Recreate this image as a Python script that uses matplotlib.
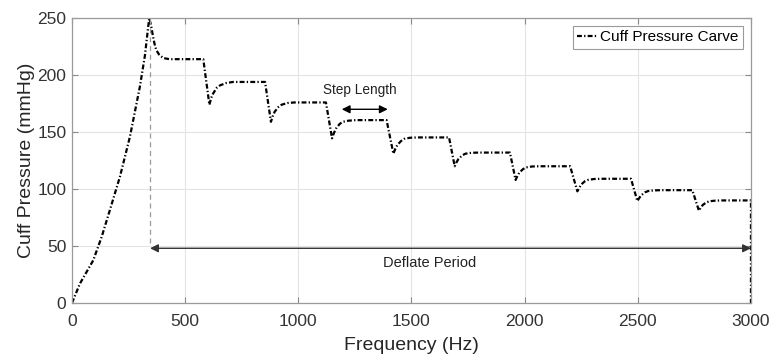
import matplotlib.pyplot as plt

plt.rcParams['font.family'] = ['Liberation Sans', 'DejaVu Sans']

# cuff pressure curve (Hz, mmHg)
ramp_f = [0, 35, 94, 131, 168, 212, 256, 300, 322, 341]
ramp_p = [0, 17, 37.5, 58, 82, 111, 146, 190, 217, 250]

peak_f = [349, 356, 364, 372, 385, 403, 430, 580]
peak_p = [244, 236, 228, 222, 218, 215, 214, 214]

steps_f = [607, 615, 624, 640, 654, 680, 711, 853,
           879, 887, 896, 912, 926, 952, 983, 1122,
           1149, 1157, 1166, 1182, 1196, 1222, 1253, 1390,
           1420, 1428, 1437, 1453, 1467, 1493, 1524, 1666,
           1691, 1699, 1708, 1724, 1738, 1764, 1795, 1935,
           1960, 1968, 1977, 1993, 2007, 2033, 2064, 2201,
           2233, 2241, 2250, 2266, 2280, 2306, 2337, 2470,
           2498, 2506, 2515, 2531, 2545, 2571, 2602, 2741,
           2770, 2778, 2787, 2803, 2817, 2843, 2874, 3000, 3000]
steps_p = [174, 180, 184, 189, 191, 193, 194, 194,
           159, 164, 168, 172, 174, 175.5, 176, 176,
           144.5, 149, 153, 157, 159, 160, 160.5, 160.5,
           131, 135, 138.5, 142, 144, 145, 145.3, 145.3,
           120, 123.5, 126.5, 129.5, 131, 131.8, 132, 132,
           108, 111.5, 114.5, 117.5, 119, 119.8, 120, 120,
           98, 101, 104, 106.8, 108, 108.8, 109, 109,
           89.5, 92, 94.5, 97, 98.2, 98.8, 99, 99,
           81, 83.5, 86, 88.3, 89.3, 89.8, 90, 90, 0]

freq = ramp_f + peak_f + steps_f
pressure = ramp_p + peak_p + steps_p

deflate_start = 345
deflate_end = 3000
deflate_level = 48
step_from, step_to, step_level = 1192, 1395, 170

fig = plt.figure(figsize=(7.71, 3.56), dpi=100)
ax = fig.add_axes([0.0934, 0.149, 0.8806, 0.80])

ax.plot(freq, pressure, color='black', lw=1.6, dashes=(2.2, 1.0, 0.6, 1.0),
        label='Cuff Pressure Carve')

# dashed marker for start of deflation
ax.plot([deflate_start, deflate_start], [53, 250], color='#999999', lw=0.9, ls=(0, (4, 3)))

ax.annotate('', xy=(deflate_start, deflate_level), xytext=(deflate_end, deflate_level),
            arrowprops=dict(arrowstyle='<|-|>', color='#333333', lw=1.0,
                            mutation_scale=12, shrinkA=0, shrinkB=0))
ax.text(1580, 35, 'Deflate Period', ha='center', va='center', fontsize=10.5, color='#222222')

ax.annotate('', xy=(step_from, step_level), xytext=(step_to, step_level),
            arrowprops=dict(arrowstyle='<|-|>', color='black', lw=1.0,
                            mutation_scale=12, shrinkA=0, shrinkB=0))
ax.text(1273, 187, 'Step Length', ha='center', va='center', fontsize=9.8, color='#222222')

ax.set_xlim(0, 3000)
ax.set_ylim(0, 250)
ax.set_xticks([0, 500, 1000, 1500, 2000, 2500, 3000])
ax.set_yticks([0, 50, 100, 150, 200, 250])
ax.grid(True, color='#e4e4e4', lw=0.8)
ax.tick_params(direction='in', top=True, right=True, length=4, color='#888888',
               labelsize=12.5, labelcolor='#333333')
ax.tick_params(axis='x', pad=8)
ax.tick_params(axis='y', pad=4)
for s in ax.spines.values():
    s.set_color('#9a9a9a')
    s.set_linewidth(0.9)

ax.set_xlabel('Frequency (Hz)', fontsize=14, color='#262626', labelpad=6)
ax.set_ylabel('Cuff Pressure (mmHg)', fontsize=14, color='#262626', labelpad=2)

leg = ax.legend(loc='upper right', fontsize=11, handlelength=1.3, handletextpad=0.2,
                borderpad=0.3, fancybox=False, framealpha=1, borderaxespad=0.5)
leg.get_frame().set_edgecolor('#9a9a9a')
leg.get_frame().set_linewidth(0.8)

plt.savefig('out.png', dpi=100)
